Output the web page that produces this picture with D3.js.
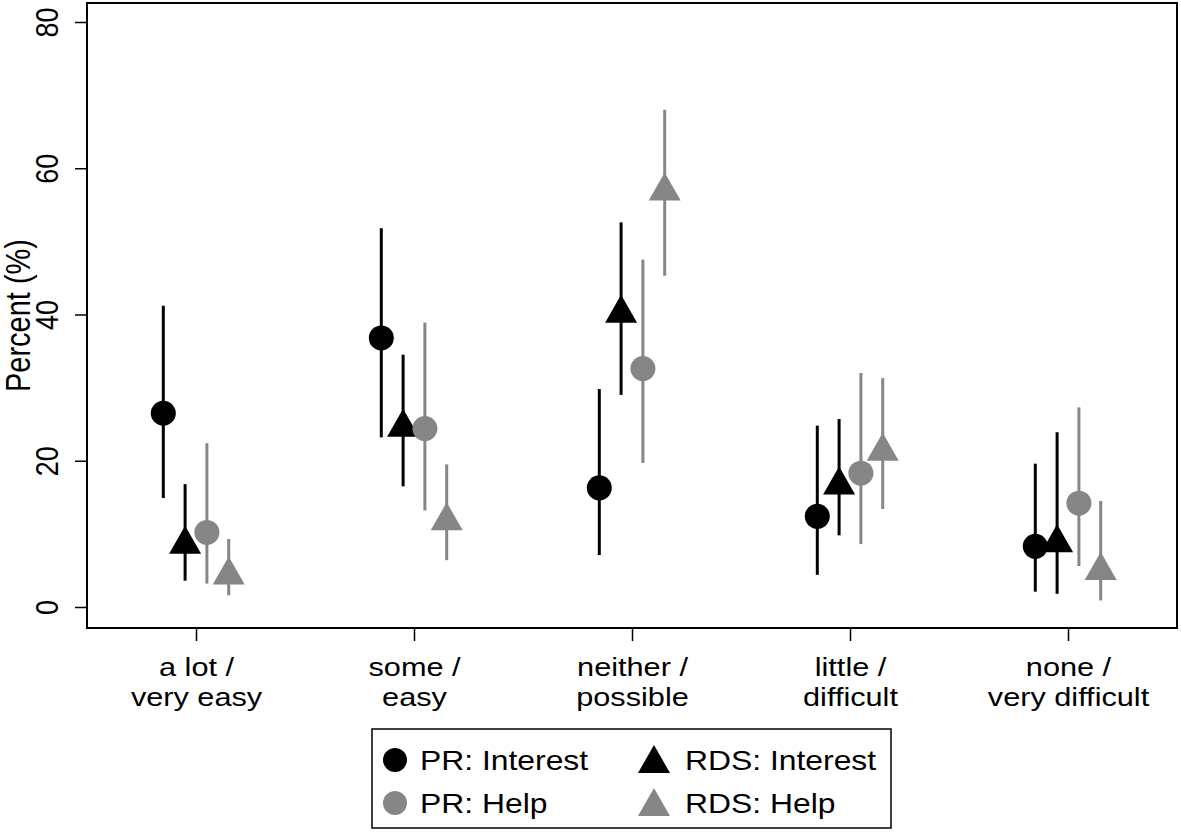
<!DOCTYPE html>
<html>
<head>
<meta charset="utf-8">
<script src="https://cdn.jsdelivr.net/npm/d3@7"></script>
<style>
  html, body { margin: 0; padding: 0; background: #fff; }
  svg { display: block; }
  text { font-family: "Liberation Sans", Arial, sans-serif; fill: #000; }
</style>
</head>
<body>
<svg id="chart" width="1181" height="835"></svg>
<script>
// ---- data ----
const categories = [["a lot /", "very easy"], ["some /", "easy"], ["neither /", "possible"], ["little /", "difficult"], ["none /", "very difficult"]];
const seriesNames = ["PR: Interest", "RDS: Interest", "PR: Help", "RDS: Help"];
const prInterest    = [26.5, 36.8, 16.3, 12.4, 8.3];
const prInterestLo  = [14.9, 23.2, 7.1, 4.4, 2.1];
const prInterestHi  = [41.2, 51.8, 29.8, 24.8, 19.6];
const rdsInterest   = [9.2, 25.2, 40.8, 17.3, 9.4];
const rdsInterestLo = [3.6, 16.5, 29.0, 9.8, 1.8];
const rdsInterestHi = [16.8, 34.5, 52.6, 25.7, 23.9];
const prHelp        = [10.2, 24.4, 32.6, 18.3, 14.2];
const prHelpLo      = [3.2, 13.2, 19.7, 8.6, 5.6];
const prHelpHi      = [22.4, 38.9, 47.5, 32.0, 27.3];
const rdsHelp       = [5.0, 12.4, 57.5, 21.9, 5.6];
const rdsHelpLo     = [1.6, 6.4, 45.3, 13.4, 0.9];
const rdsHelpHi     = [9.3, 19.5, 68.0, 31.3, 14.5];
const yTicks = [0, 20, 40, 60, 80];

// ---- layout ----
const L = 87, R = 1177, T = 3, B = 628;
const BLACK = "#000", GRAY = "#868686";
const SX = 1.18; // horizontal stretch of the glyphs in the reference

const series = [
  { name: seriesNames[0], v: prInterest,  lo: prInterestLo,  hi: prInterestHi,  color: BLACK, shape: "circle",   off: -0.15 },
  { name: seriesNames[1], v: rdsInterest, lo: rdsInterestLo, hi: rdsInterestHi, color: BLACK, shape: "triangle", off: -0.05 },
  { name: seriesNames[2], v: prHelp,      lo: prHelpLo,      hi: prHelpHi,      color: GRAY,  shape: "circle",   off: 0.05 },
  { name: seriesNames[3], v: rdsHelp,     lo: rdsHelpLo,     hi: rdsHelpHi,     color: GRAY,  shape: "triangle", off: 0.15 }
];

const svg = d3.select("#chart");
const x = d3.scaleLinear().domain([0.5, 5.5]).range([L, R]);
const y = d3.scaleLinear().domain([0, 80]).range([607, 22]);

const circleR = 12.5, triW = 32, triH = 28;
const triPath = `M0,${-triH/2} L${triW/2},${triH/2} L${-triW/2},${triH/2} Z`;

// y axis
const yAxis = svg.append("g").attr("transform", `translate(${L},0)`)
  .call(d3.axisLeft(y).tickValues(yTicks).tickSize(12).tickPadding(0).tickFormat(d3.format("d")));
yAxis.select(".domain").remove();
yAxis.selectAll(".tick line").attr("stroke", "#000").attr("stroke-width", 1.5);
yAxis.selectAll(".tick text")
  .attr("x", null).attr("dy", null)
  .attr("transform", `translate(-40,0) scale(${SX},1) rotate(-90)`)
  .attr("text-anchor", "middle")
  .attr("dominant-baseline", "central")
  .style("font-size", "27px");

// x axis
const xAxis = svg.append("g").attr("transform", `translate(0,${B})`)
  .call(d3.axisBottom(x).tickValues([1, 2, 3, 4, 5]).tickSize(13).tickFormat(""));
xAxis.select(".domain").remove();
xAxis.selectAll(".tick line").attr("stroke", "#000").attr("stroke-width", 1.5);
xAxis.selectAll(".tick").each(function(d, i) {
  const g = d3.select(this).append("g").attr("transform", `scale(${SX},1)`);
  const t = g.append("text").attr("text-anchor", "middle").style("font-size", "26px");
  t.append("tspan").attr("x", 0).attr("y", 48).text(categories[i][0]);
  t.append("tspan").attr("x", 0).attr("y", 78).text(categories[i][1]);
});

// plot border
svg.append("rect").attr("x", L).attr("y", T).attr("width", R - L).attr("height", B - T)
  .attr("fill", "none").attr("stroke", "#000").attr("stroke-width", 2);

// y title
svg.append("text").attr("transform", `translate(18,${(T + B) / 2}) scale(${SX},1) rotate(-90)`)
  .attr("text-anchor", "middle").attr("dominant-baseline", "central")
  .style("font-size", "29px").text("Percent (%)");

// error bars and markers
series.forEach(s => {
  const g = svg.append("g");
  s.v.forEach((val, i) => {
    const cx = x(i + 1 + s.off);
    g.append("line").attr("x1", cx).attr("x2", cx).attr("y1", y(s.lo[i])).attr("y2", y(s.hi[i]))
      .attr("stroke", s.color).attr("stroke-width", 3);
  });
  s.v.forEach((val, i) => {
    const cx = x(i + 1 + s.off), cy = y(val);
    if (s.shape === "circle") {
      g.append("circle").attr("cx", cx).attr("cy", cy).attr("r", circleR).attr("fill", s.color);
    } else {
      g.append("path").attr("d", triPath).attr("transform", `translate(${cx},${cy})`).attr("fill", s.color);
    }
  });
});

// legend
const lg = svg.append("g");
lg.append("rect").attr("x", 372).attr("y", 729).attr("width", 519).attr("height", 99)
  .attr("fill", "#fff").attr("stroke", "#000").attr("stroke-width", 1.5);
const legMarkerX = [395, 654, 395, 654];
const legTextX = [420, 685, 420, 685];
const legY = [760, 760, 803, 803];
series.forEach((s, k) => {
  const lx = legMarkerX[k], ly = legY[k];
  if (s.shape === "circle") {
    lg.append("circle").attr("cx", lx).attr("cy", ly).attr("r", 12).attr("fill", s.color);
  } else {
    lg.append("path").attr("d", triPath).attr("transform", `translate(${lx},${ly - 1})`).attr("fill", s.color);
  }
  lg.append("g").attr("transform", `translate(${legTextX[k]},${ly}) scale(${SX},1)`)
    .append("text").attr("x", 0).attr("y", 0)
    .attr("dominant-baseline", "central").style("font-size", "27px").text(s.name);
});
</script>
</body>
</html>
